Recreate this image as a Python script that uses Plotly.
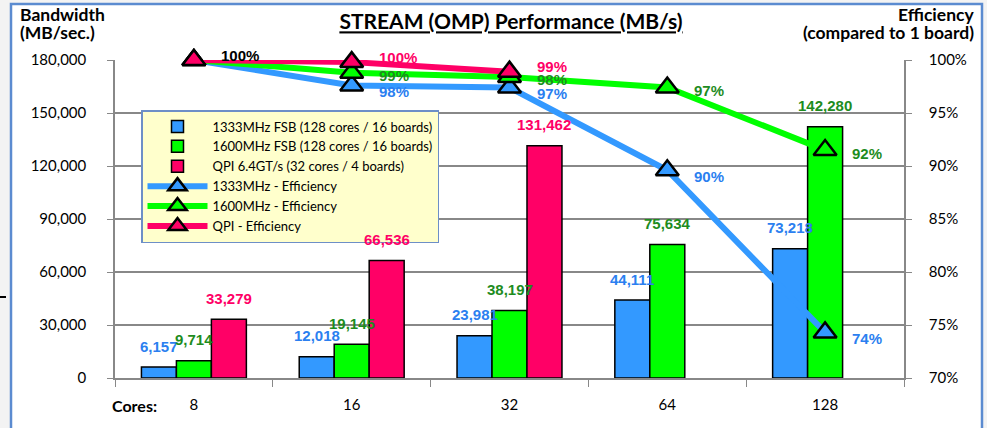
import plotly.graph_objects as go

cores = ["8", "16", "32", "64", "128"]
bw_1333 = [6157, 12018, 23981, 44111, 73218]
bw_1600 = [9714, 19145, 38197, 75634, 142280]
bw_qpi = [33279, 66536, 131462, None, None]

eff_1333 = [100, 97.6, 97.4, 89.6, 74.3]
eff_1600 = [100, 98.8, 98.4, 97.4, 91.5]
eff_qpi = [100, 99.8, 98.9, None, None]

lbl_1333 = ["", "98%", "97%", "90%", "74%"]
lbl_1600 = ["", "99%", "98%", "97%", "92%"]
lbl_qpi = ["100%", "100%", "99%", "", ""]

y_ticks = [0, 30000, 60000, 90000, 120000, 150000, 180000]
y2_ticks = [70, 75, 80, 85, 90, 95, 100]
y2_text = ["70%", "75%", "80%", "85%", "90%", "95%", "100%"]

BLUE = "#3399ff"
GREEN = "#00ff00"
PINK = "#ff0066"
BLUE_T = "#2b7ff0"
GREEN_T = "#1e8c1e"
PINK_T = "#ff0066"

LBL_FONT = "Liberation Sans, Arial, sans-serif"
TICK_FONT = "Lato, Noto Sans, sans-serif"

W, H = 987, 428
L, R, T, B = 115, 83, 60, 50
pw, ph = W - L - R, H - T - B
BARGAP = 0.335
bar_px = pw / len(cores) * (1 - BARGAP) / 3


def px_x(x):
    return (x - L) / pw


def px_y(y):
    return (H - B - y) / ph


fig = go.Figure()
annotations = []


def add_bar(name, vals, color, tcolor, slot):
    fig.add_trace(go.Bar(
        x=cores, y=vals, name=name,
        marker=dict(color=color, line=dict(color="black", width=1.5)),
    ))
    for i, v in enumerate(vals):
        if v is None:
            continue
        annotations.append(dict(
            x=i, y=v, xref="x", yref="y", text=f"<b>{v:,}</b>",
            showarrow=False, xanchor="center", yanchor="middle",
            xshift=slot * bar_px, yshift=21,
            font=dict(family=LBL_FONT, size=15, color=tcolor),
        ))


add_bar("1333MHz FSB (128 cores / 16 boards)", bw_1333, BLUE, BLUE_T, -1)
add_bar("1600MHz FSB (128 cores / 16 boards)", bw_1600, GREEN, GREEN_T, 0)
add_bar("QPI 6.4GT/s (32 cores / 4 boards)", bw_qpi, PINK, PINK_T, 1)


def add_line(name, vals, labels, color, tcolors, dy):
    fig.add_trace(go.Scatter(
        x=cores, y=vals, name=name, yaxis="y2", mode="lines+markers",
        line=dict(color=color, width=6),
        marker=dict(symbol="triangle-up", size=20, color=color,
                    line=dict(color="black", width=2.5)),
        cliponaxis=False,
    ))
    for i, (v, t, c) in enumerate(zip(vals, labels, tcolors)):
        if v is None or not t:
            continue
        annotations.append(dict(
            x=i, y=v, xref="x", yref="y2", text=f"<b>{t}</b>",
            showarrow=False, xanchor="left", yanchor="middle",
            xshift=25, yshift=dy,
            font=dict(family=LBL_FONT, size=15, color=c),
        ))


add_line("1333MHz - Efficiency", eff_1333, lbl_1333, BLUE, [BLUE_T] * 5, -6)
add_line("1600MHz - Efficiency", eff_1600, lbl_1600, GREEN, [GREEN_T] * 5, -3)
add_line("QPI - Efficiency", eff_qpi, lbl_qpi, PINK,
         ["black", PINK_T, PINK_T, PINK_T, PINK_T], 5)

TITLE_FONT = dict(family=TICK_FONT, size=17.5, color="black")
annotations += [
    dict(text="<b>Bandwidth</b>", xref="paper", yref="paper",
         x=px_x(18), y=px_y(15), xanchor="left", yanchor="middle",
         showarrow=False, font=TITLE_FONT),
    dict(text="<b>(MB/sec.)</b>", xref="paper", yref="paper",
         x=px_x(18), y=px_y(32), xanchor="left", yanchor="middle",
         showarrow=False, font=TITLE_FONT),
    dict(text="<b>Efficiency</b>", xref="paper", yref="paper",
         x=px_x(976), y=px_y(15), xanchor="right", yanchor="middle",
         showarrow=False, font=TITLE_FONT),
    dict(text="<b>(compared to 1 board)</b>", xref="paper", yref="paper",
         x=px_x(976), y=px_y(32), xanchor="right", yanchor="middle",
         showarrow=False, font=TITLE_FONT),
    dict(text="<b>Cores:</b>", xref="paper", yref="paper",
         x=px_x(134), y=px_y(405), xanchor="center", yanchor="middle",
         showarrow=False,
         font=dict(family=TICK_FONT, size=16, color="black")),
]

fig.update_layout(
    width=W, height=H,
    margin=dict(l=L, r=R, t=T, b=B),
    paper_bgcolor="#f3f3f3",
    plot_bgcolor="white",
    barmode="group", bargap=BARGAP, bargroupgap=0,
    showlegend=True,
    legend=dict(
        x=px_x(141), y=px_y(110), xanchor="left", yanchor="top",
        bgcolor="#ffffcc", bordercolor="#6d8fc7", borderwidth=1.5,
        font=dict(family=TICK_FONT, size=13, color="black"),
        tracegroupgap=0, itemwidth=60,
    ),
    title=dict(
        text="<b><u>STREAM (OMP) Performance (MB/s)</u></b>",
        x=px_x(511), xref="paper", xanchor="center",
        y=1 - 22 / H, yref="container", yanchor="middle",
        font=dict(family=TICK_FONT, size=21, color="black"),
    ),
    xaxis=dict(
        type="category", categoryorder="array", categoryarray=cores,
        range=[-0.5, len(cores) - 0.5], autorange=False,
        tickson="boundaries", ticks="outside", ticklen=7,
        tickcolor="#888888", showline=True, linecolor="#888888", linewidth=1.5,
        showgrid=False, ticklabelstandoff=12,
        tickfont=dict(family=TICK_FONT, size=15, color="black"),
    ),
    yaxis=dict(
        range=[0, 180000], tickvals=y_ticks, tickformat=",",
        ticks="outside", ticklen=6, tickcolor="#888888",
        showline=True, linecolor="#888888", linewidth=1.5,
        showgrid=True, gridcolor="#888888", gridwidth=1.5,
        zeroline=False, ticklabelstandoff=18,
        tickfont=dict(family=TICK_FONT, size=15, color="black"),
    ),
    yaxis2=dict(
        range=[70, 100], tickmode="array", tickvals=y2_ticks, ticktext=y2_text,
        overlaying="y", side="right",
        ticks="outside", ticklen=6, tickcolor="#888888",
        showline=True, linecolor="#888888", linewidth=1.5,
        showgrid=False, zeroline=False, ticklabelstandoff=14,
        tickfont=dict(family=TICK_FONT, size=15, color="black"),
    ),
    shapes=[
        dict(type="rect", xref="paper", yref="paper", layer="below",
             x0=px_x(11), x1=px_x(982), y0=px_y(440), y1=px_y(4),
             fillcolor="white", line=dict(color="#5b8bd0", width=2.5)),
        dict(type="line", xref="paper", yref="paper",
             x0=px_x(0), x1=px_x(6), y0=px_y(297), y1=px_y(297),
             line=dict(color="black", width=2)),
    ],
    annotations=annotations,
)

fig.write_html("out.html", config={"displayModeBar": False},
               post_script="document.body.style.margin='0px';")
